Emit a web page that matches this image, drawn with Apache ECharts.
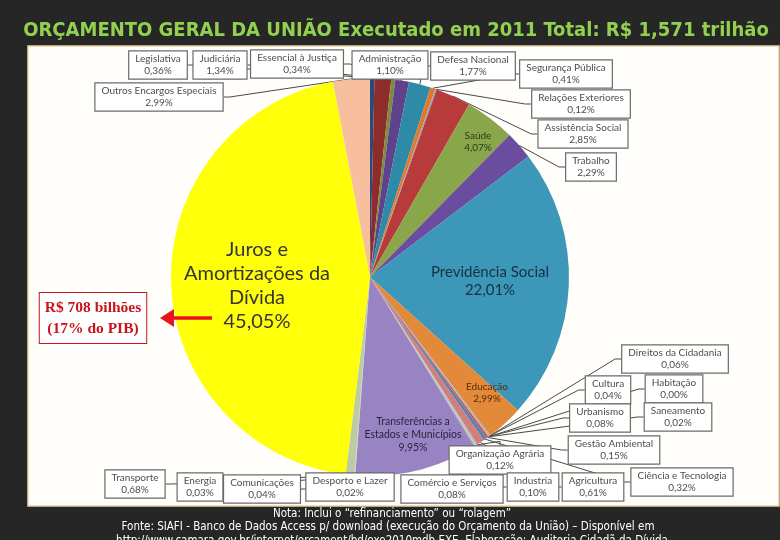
<!DOCTYPE html>
<html>
<head>
<meta charset="utf-8">
<script src="https://cdn.jsdelivr.net/npm/echarts@6/dist/echarts.min.js"></script>
<style>
  html, body { margin: 0; background: #262626; }
  #chart { width: 780px; height: 540px; }
</style>
</head>
<body>
<div id="chart"></div>
<script>
  // funções do orçamento, sentido horário a partir do topo
  const categories = [
    'Legislativa', 'Judiciária', 'Essencial à Justiça', 'Administração', 'Defesa Nacional',
    'Segurança Pública', 'Relações Exteriores', 'Assistência Social', 'Saúde', 'Trabalho',
    'Previdência Social', 'Educação', 'Cultura', 'Direitos da Cidadania', 'Urbanismo',
    'Habitação', 'Saneamento', 'Gestão Ambiental', 'Ciência e Tecnologia', 'Agricultura',
    'Organização Agrária', 'Industria', 'Comércio e Serviços', 'Transferências a\nEstados e Municípios',
    'Comunicações', 'Energia', 'Transporte', 'Desporto e Lazer',
    'Juros e\nAmortizações da\nDívida', 'Outros Encargos Especiais'
  ];
  const shares = [
    0.36, 1.34, 0.34, 1.10, 1.77,
    0.41, 0.12, 2.85, 4.07, 2.29,
    22.01, 2.99, 0.04, 0.06, 0.08,
    0.00, 0.02, 0.15, 0.32, 0.61,
    0.12, 0.10, 0.08, 9.95,
    0.04, 0.03, 0.68, 0.02,
    45.05, 2.99
  ];
  const sliceColors = [
    '#2b4a78', '#8e2b2b', '#7d8c3c', '#5f418c', '#2f8aa8',
    '#e07a2a', '#8da2c4', '#b83b3b', '#8aa64b', '#6a4d9e',
    '#3c97b8', '#e2893a', '#c9a0d8', '#5aa0c8', '#f0a060',
    '#a0c878', '#7090c0', '#c05050', '#6080b0', '#d27f7c',
    '#a6b8d6', '#c8d890', '#9890c0', '#9884c2',
    '#b0c0e0', '#e8c0a0', '#bccba4', '#90a878',
    '#ffff0a', '#f8bf9f'
  ];

  // centro de cada rótulo (caixas e rótulos internos)
  const labelPos = {
    'Legislativa': [158, 65], 'Judiciária': [220, 65], 'Essencial à Justiça': [297, 64],
    'Administração': [390, 65], 'Defesa Nacional': [473, 66], 'Segurança Pública': [566, 74],
    'Relações Exteriores': [581, 104], 'Assistência Social': [583, 134], 'Trabalho': [591, 167],
    'Outros Encargos Especiais': [159, 97], 'Direitos da Cidadania': [675, 359],
    'Cultura': [608, 390], 'Habitação': [674, 389], 'Urbanismo': [600, 418],
    'Saneamento': [678, 417], 'Gestão Ambiental': [614, 450], 'Ciência e Tecnologia': [682, 482],
    'Organização Agrária': [500, 460], 'Agricultura': [593, 487], 'Industria': [533, 487],
    'Comércio e Serviços': [452, 489], 'Desporto e Lazer': [350, 487], 'Comunicações': [262, 489],
    'Energia': [200, 487], 'Transporte': [135, 484],
    'Saúde': [478, 142], 'Previdência Social': [490, 281], 'Educação': [487, 393],
    'Transferências a\nEstados e Municípios': [413, 435],
    'Juros e\nAmortizações da\nDívida': [257, 286]
  };

  const insideStyle = {
    'Saúde': { fontSize: 10, lineHeight: 12, color: '#2d3a18' },
    'Previdência Social': { fontSize: 15, lineHeight: 18, color: '#17323e' },
    'Educação': { fontSize: 10, lineHeight: 12, color: '#5a2a08' },
    'Transferências a\nEstados e Municípios': { fontSize: 10.5, lineHeight: 13, color: '#2a2440' },
    'Juros e\nAmortizações da\nDívida': { fontSize: 20, lineHeight: 24, color: '#353535' }
  };

  const fmt = v => v.toFixed(2).replace('.', ',') + '%';

  const pieData = categories.map((name, i) => {
    const item = { name: name, value: shares[i], itemStyle: { color: sliceColors[i] } };
    const st = insideStyle[name];
    if (st) {
      item.label = {
        backgroundColor: 'transparent', borderWidth: 0, padding: 0,
        fontSize: st.fontSize, lineHeight: st.lineHeight, color: st.color
      };
      item.labelLine = { show: false };
    }
    return item;
  });

  const footFont = '11.5px "DejaVu Sans Condensed", sans-serif';

  const chart = echarts.init(document.getElementById('chart'));
  chart.setOption({
    backgroundColor: '#262626',
    animation: false,
    graphic: [
      {
        type: 'rect', z: -10,
        shape: { x: 28, y: 46, width: 751, height: 460 },
        style: { fill: '#fffefa', stroke: '#ecd3a6', lineWidth: 1.5 }
      },
      {
        type: 'text', z: 10,
        style: {
          x: 396, y: 31, text: 'ORÇAMENTO GERAL DA UNIÃO Executado em 2011 Total: R$ 1,571 trilhão',
          align: 'center', verticalAlign: 'middle',
          font: 'bold 20px "DejaVu Sans Condensed", "DejaVu Sans", sans-serif', fill: '#92d050'
        }
      },
      {
        type: 'text', z: 10,
        style: {
          x: 93, y: 318, text: 'R$ 708 bilhões\n(17% do PIB)',
          align: 'center', verticalAlign: 'middle', lineHeight: 21,
          font: 'bold 15.5px "Liberation Serif", "DejaVu Serif", serif', fill: '#c8141c',
          backgroundColor: '#ffffff', borderColor: '#c8141c', borderWidth: 1,
          padding: [5, 5, 3, 5]
        }
      },
      {
        type: 'polyline', z: 10,
        shape: { points: [[212, 318], [170, 318]] },
        style: { stroke: '#e8141c', lineWidth: 3.5 }
      },
      {
        type: 'polygon', z: 10,
        shape: { points: [[160, 318], [174, 309], [174, 327]] },
        style: { fill: '#e8141c' }
      },
      {
        type: 'text', z: 10,
        style: {
          x: 392, y: 514, text: 'Nota: Inclui o “refinanciamento” ou “rolagem”',
          align: 'center', verticalAlign: 'middle', font: footFont, fill: '#ffffff'
        }
      },
      {
        type: 'text', z: 10,
        style: {
          x: 388, y: 527, text: 'Fonte: SIAFI - Banco de Dados Access p/ download (execução do Orçamento da União) – Disponível em',
          align: 'center', verticalAlign: 'middle', font: footFont, fill: '#ffffff'
        }
      },
      {
        type: 'text', z: 10,
        style: {
          x: 392, y: 541, text: 'http://www.camara.gov.br/internet/orcament/bd/exe2010mdb.EXE. Elaboração: Auditoria Cidadã da Dívida',
          align: 'center', verticalAlign: 'middle', font: footFont, fill: '#ffffff'
        }
      }
    ],
    series: [{
      type: 'pie',
      center: [370, 277],
      radius: 199,
      startAngle: 90,
      clockwise: true,
      avoidLabelOverlap: false,
      itemStyle: { borderWidth: 0 },
      label: {
        show: true,
        position: 'outside',
        formatter: p => p.name + '\n' + fmt(p.value),
        fontFamily: 'Lato, "Open Sans", sans-serif',
        fontSize: 10,
        lineHeight: 12,
        color: '#4e4e4e',
        align: 'center',
        backgroundColor: '#ffffff',
        borderColor: '#6a6a6a',
        borderWidth: 1.2,
        padding: [2, 6, 1, 6]
      },
      labelLine: { show: true, length: 10, length2: 10, lineStyle: { color: '#4a4a4a', width: 1 } },
      labelLayout: function (p) {
        const name = categories[p.dataIndex];
        const pos = labelPos[name];
        if (!pos) return {};
        const x = pos[0], y = pos[1];
        const w = p.labelRect.width, h = p.labelRect.height;
        const out = { x: x, y: y, align: 'center', verticalAlign: 'middle' };
        const pts = p.labelLinePoints;
        if (pts && !insideStyle[name]) {
          const s = pts[0];
          let e, k;
          if (s[0] < x - w / 2) { e = [x - w / 2, y]; k = [e[0] - 6, y]; }
          else if (s[0] > x + w / 2) { e = [x + w / 2, y]; k = [e[0] + 6, y]; }
          else if (s[1] < y) { e = [x, y - h / 2]; k = [x, e[1] - 4]; }
          else { e = [x, y + h / 2]; k = [x, e[1] + 4]; }
          out.labelLinePoints = [s, k, e];
        }
        return out;
      },
      data: pieData
    }]
  });
</script>
</body>
</html>
